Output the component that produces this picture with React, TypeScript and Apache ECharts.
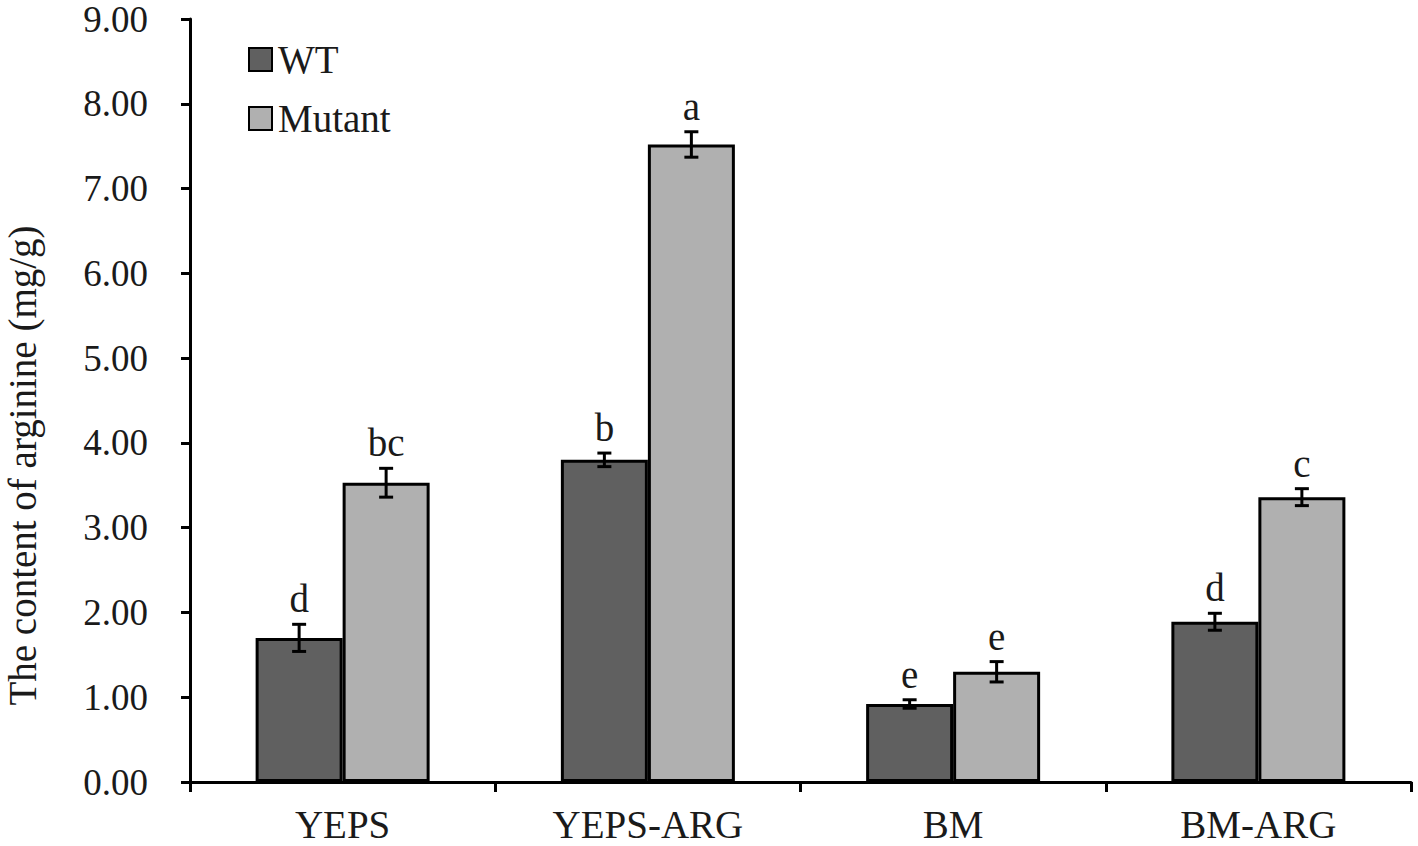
import React, { useEffect, useRef } from "react";
import * as echarts from "echarts";

const categories = ["YEPS", "YEPS-ARG", "BM", "BM-ARG"];
const wtValues = [1.7, 3.8, 0.92, 1.89];
const wtErrors = [0.16, 0.08, 0.05, 0.1];
const wtLetters = ["d", "b", "e", "d"];
const mutantValues = [3.53, 7.52, 1.3, 3.36];
const mutantErrors = [0.17, 0.15, 0.12, 0.1];
const mutantLetters = ["bc", "a", "e", "c"];
const yTicks = [0, 1, 2, 3, 4, 5, 6, 7, 8, 9];

const FONT = "'Liberation Serif', 'Times New Roman', serif";
const TEXT = "#1a1a1a";
const BAR_W = 87;

function errorSeries(name: string, vals: number[], errs: number[], letters: string[], offset: number) {
  return {
    type: "custom",
    name: name + "-err",
    z: 10,
    silent: true,
    data: vals.map((v, i) => [i, v, errs[i]]),
    renderItem: (params: any, api: any) => {
      const i = api.value(0);
      const v = api.value(1);
      const e = api.value(2);
      const hi = api.coord([i, v + e]);
      const lo = api.coord([i, v - e]);
      const x = hi[0] + offset;
      const cap = 7;
      const style = { stroke: "#000", lineWidth: 3 };
      return {
        type: "group",
        children: [
          { type: "line", shape: { x1: x, y1: hi[1], x2: x, y2: lo[1] }, style },
          { type: "line", shape: { x1: x - cap, y1: hi[1], x2: x + cap, y2: hi[1] }, style },
          { type: "line", shape: { x1: x - cap, y1: lo[1], x2: x + cap, y2: lo[1] }, style },
          {
            type: "text",
            x: x,
            y: hi[1] - 6,
            style: {
              text: letters[i],
              fill: TEXT,
              font: `39px ${FONT}`,
              textAlign: "center",
              textVerticalAlign: "bottom",
            },
          },
        ],
      };
    },
  };
}

export default function App() {
  const ref = useRef<HTMLDivElement>(null);
  useEffect(() => {
    document.body.style.margin = "0";
    const chart = echarts.init(ref.current!, undefined, { renderer: "svg" });
    chart.setOption({
      animation: false,
      backgroundColor: "#fff",
      textStyle: { fontFamily: FONT, color: TEXT },
      grid: { left: 190, right: 7, top: 19, bottom: 64, containLabel: false, outerBoundsMode: "none" },
      legend: {
        orient: "vertical",
        left: 243,
        top: 35,
        itemWidth: 23,
        itemHeight: 23,
        itemGap: 20,
        icon: "rect",
        textStyle: { fontFamily: FONT, fontSize: 39, color: TEXT, padding: [0, 0, 0, 1] },
        data: ["WT", "Mutant"],
      },
      xAxis: {
        type: "category",
        data: categories,
        axisLine: { lineStyle: { color: "#000", width: 3 } },
        axisTick: { show: true, length: 10, lineStyle: { color: "#000", width: 3 } },
        axisLabel: { fontFamily: FONT, fontSize: 39, color: TEXT, margin: 23 },
      },
      yAxis: {
        type: "value",
        min: 0,
        max: 9,
        interval: 1,
        name: "The content of arginine (mg/g)",
        nameLocation: "middle",
        nameGap: 148,
        nameTextStyle: { fontFamily: FONT, fontSize: 39, color: TEXT, padding: [0, 130, 0, 0] },
        axisLine: { show: true, lineStyle: { color: "#000", width: 3 } },
        axisTick: { show: true, length: 9, lineStyle: { color: "#000", width: 3 } },
        splitLine: { show: false },
        axisLabel: {
          fontFamily: FONT,
          fontSize: 37,
          lineHeight: 36,
          color: TEXT,
          margin: 42,
          formatter: (v: number) => (yTicks.includes(v) ? v.toFixed(2) : ""),
        },
      },
      series: [
        {
          type: "bar",
          name: "WT",
          data: wtValues,
          barWidth: BAR_W,
          barGap: "0%",
          itemStyle: { color: "#606060", borderColor: "#000", borderWidth: 3 },
        },
        {
          type: "bar",
          name: "Mutant",
          data: mutantValues,
          barWidth: BAR_W,
          barGap: "0%",
          itemStyle: { color: "#b0b0b0", borderColor: "#000", borderWidth: 3 },
        },
        errorSeries("WT", wtValues, wtErrors, wtLetters, -BAR_W / 2),
        errorSeries("Mutant", mutantValues, mutantErrors, mutantLetters, BAR_W / 2),
      ],
    });
    return () => chart.dispose();
  }, []);
  return <div ref={ref} style={{ position: "absolute", left: 0, top: 0, width: 1418, height: 846 }} />;
}
